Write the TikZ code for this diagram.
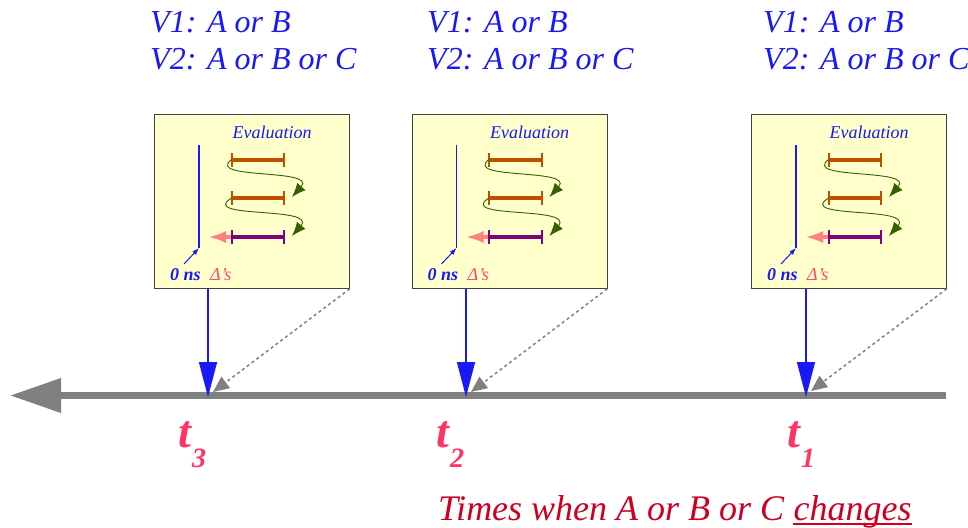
\documentclass[tikz,border=0pt]{standalone}
\usepackage{fontspec}
\setmainfont{Liberation Serif}
\usetikzlibrary{arrows.meta}
\definecolor{vblue}{RGB}{25,25,245}
\definecolor{boxfill}{RGB}{255,255,204}
\definecolor{barbrown}{RGB}{192,80,0}
\definecolor{barpurple}{RGB}{128,0,128}
\definecolor{pinkarr}{RGB}{255,128,128}
\definecolor{curvegreen}{RGB}{51,96,0}
\definecolor{deltapink}{RGB}{255,70,110}
\definecolor{tpink}{RGB}{255,51,102}
\definecolor{bottomred}{RGB}{204,0,34}
\definecolor{axisgray}{RGB}{128,128,128}
\tikzset{
  ebox/.style={draw=black!75, line width=0.8pt, fill=boxfill, minimum width=195pt, minimum height=174pt, anchor=north west, inner sep=0pt},
  txt/.style={inner sep=0pt, anchor=base west},
  headtxt/.style={txt, text=vblue, font=\fontsize{32}{37}\selectfont\itshape},
  evaltxt/.style={inner sep=0pt, anchor=base, text=vblue, font=\fontsize{18}{18}\selectfont\itshape},
  zerotxt/.style={txt, text=vblue, font=\fontsize{18}{18}\selectfont\bfseries\itshape},
  deltatxt/.style={txt, text=deltapink, font=\fontsize{18}{18}\selectfont\itshape},
  bar/.style={line width=4pt},
  tick/.style={line width=2pt},
  evalcurve/.style={draw=curvegreen, line width=0.9pt, -{Latex[length=14pt,width=11pt]}},
  pinkarrow/.style={draw=pinkarr, line width=3.5pt, -{Latex[length=18pt,width=12pt]}},
  downarrow/.style={draw=vblue, line width=1.5pt, -{Triangle[length=35pt,width=18pt]}},
  dotarrow/.style={draw=axisgray, line width=1.5pt, dash pattern=on 3pt off 3pt, -{Triangle[length=16pt,width=14pt]}},
  axis/.style={draw=axisgray, line width=7pt, -{Triangle[length=51pt,width=33pt]}},
  tlabel/.style={txt, text=tpink, font=\fontsize{46}{46}\selectfont\bfseries\itshape},
  tsub/.style={txt, text=tpink, font=\fontsize{28}{28}\selectfont\bfseries\itshape},
}
\newcommand\evalbox[2]{%
\begin{scope}[xshift=#1pt]
  \node[ebox] (box#2) at (154,114) {};
  \node[evaltxt] (eval#2) at (272,138) {Evaluation};
  \coordinate (vtop#2) at (199,145);
  \coordinate (vbot#2) at (199,248);
  \draw[vblue, line width=1.4pt] (vtop#2) -- (vbot#2);
  \coordinate (zs#2) at (184,264);
  \draw[vblue, line width=1pt, -{Latex[length=7pt,width=5pt]}] (zs#2) -- (vbot#2);
  \node[zerotxt] (zero#2) at (170,280) {0 ns};
  \node[deltatxt] (delta#2) at (210,280) {Δ’s};
  % bars
  \coordinate (aL#2) at (231.5,159.5); \coordinate (aR#2) at (284,159.5);
  \coordinate (bL#2) at (231.5,198);   \coordinate (bR#2) at (284,198);
  \coordinate (cL#2) at (231.5,237);   \coordinate (cR#2) at (284,237);
  \draw[barbrown, bar] (aL#2) -- (aR#2);
  \draw[barbrown, tick] ([yshift=7pt]aL#2) -- ([yshift=-7pt]aL#2);
  \draw[barbrown, tick] ([yshift=7pt]aR#2) -- ([yshift=-7pt]aR#2);
  \draw[barbrown, bar] (bL#2) -- (bR#2);
  \draw[barbrown, tick] ([yshift=7pt]bL#2) -- ([yshift=-7pt]bL#2);
  \draw[barbrown, tick] ([yshift=7pt]bR#2) -- ([yshift=-7pt]bR#2);
  \draw[pinkarrow] (cL#2) -- (208,237);
  \draw[barpurple, bar] (cL#2) -- (cR#2);
  \draw[barpurple, tick] ([yshift=7pt]cL#2) -- ([yshift=-7pt]cL#2);
  \draw[barpurple, tick] ([yshift=7pt]cR#2) -- ([yshift=-7pt]cR#2);
  % curves
  \draw[evalcurve] (aL#2) .. controls (205,180) and (318,168) .. (292,197);
  \draw[evalcurve] (bL#2) .. controls (198,219) and (318,206) .. (292,236);
\end{scope}}
\begin{document}
\begin{tikzpicture}[x=1pt,y=-1pt]
\useasboundingbox (0,0) rectangle (968,527);
% headings
\node[headtxt] (h1a) at (150,33) {V1: A or B};
\node[headtxt] (h1b) at (150,70) {V2: A or B or C};
\node[headtxt] (h2a) at (427,33) {V1: A or B};
\node[headtxt] (h2b) at (427,70) {V2: A or B or C};
\node[headtxt] (h3a) at (763,33) {V1: A or B};
\node[headtxt] (h3b) at (763,70) {V2: A or B or C};
% boxes
\evalbox{0}{1}
\evalbox{257.5}{2}
\evalbox{597}{3}
% axis
\coordinate (axR) at (946,395.5);
\coordinate (axL) at (10,395.5);
\draw[axis] (axR) -- (axL);
% arrows to axis
\coordinate (p3) at (208,397);
\coordinate (p2) at (466,397);
\coordinate (p1) at (806,397);
\draw[downarrow] (box1.south west -| p3) -- (p3);
\draw[downarrow] (box2.south west -| p2) -- (p2);
\draw[downarrow] (box3.south west -| p1) -- (p1);
\coordinate (g3) at (213,392);
\coordinate (g2) at (471,392);
\coordinate (g1) at (811,391);
\draw[dotarrow] (box1.south east) -- (g3);
\draw[dotarrow] (box2.south east) -- (g2);
\draw[dotarrow] (box3.south east) -- (g1);
% time labels
\node[tlabel] (t3) at (178,447) {t};
\node[tsub] (s3) at (192,467) {3};
\node[tlabel] (t2) at (436,447) {t};
\node[tsub] (s2) at (450,467) {2};
\node[tlabel] (t1) at (787,447) {t};
\node[tsub] (s1) at (801,467) {1};
% bottom caption
\node[txt, text=bottomred, font=\fontsize{36}{36}\selectfont\itshape] (caption) at (438,520) {Times when A or B or C};
\node[txt, text=bottomred, font=\fontsize{36}{36}\selectfont\itshape, xshift=9pt] (chg) at (caption.base east) {changes};
\coordinate (ulL) at ([yshift=-4pt]chg.base west);
\coordinate (ulR) at ([yshift=-4pt]chg.base east);
\draw[bottomred, line width=2pt] (ulL) -- (ulR);
\end{tikzpicture}
\end{document}
